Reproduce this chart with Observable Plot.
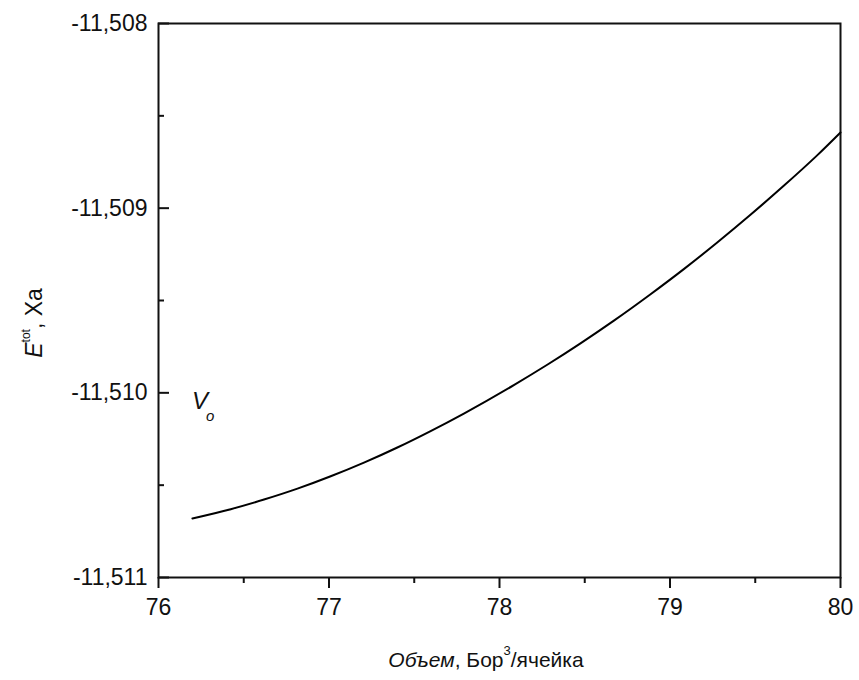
<!DOCTYPE html>
<html>
<head>
<meta charset="utf-8">
<script src="https://cdn.jsdelivr.net/npm/d3@7"></script>
<script src="https://cdn.jsdelivr.net/npm/@observablehq/plot@0.6"></script>
<style>
  body { margin: 0; background: #fff; }
  #chart svg { display: block; }
</style>
</head>
<body>
<div id="chart"></div>
<script>
// Total energy per cell vs. cell volume
const volume = [76.199, 76.424, 76.619, 76.815, 77.010, 77.205, 77.401, 77.596, 77.791,
                78.084, 78.280, 78.475, 78.671, 78.886, 79.081, 79.277, 79.472, 79.667, 79.863, 80.0];
const energy = [-11.510680, -11.510630, -11.510578, -11.510519, -11.510452, -11.510378, -11.510296,
                -11.510207, -11.510112, -11.509958, -11.509848, -11.509732, -11.509609, -11.509466,
                -11.509330, -11.509186, -11.509036, -11.508879, -11.508714, -11.508590];

const xTicks = [76, 77, 78, 79, 80];
const xMinorTicks = [76.5, 77.5, 78.5, 79.5];
const yTicks = [-11.511, -11.510, -11.509, -11.508];
const yMinorTicks = [-11.5105, -11.5095, -11.5085];

// Equilibrium volume marker (V with subscript o)
const markerX = 76.2;
const markerY = -11.51009;

const curve = volume.map((v, i) => ({volume: v, energy: energy[i]}));

const commaFmt = (f) => (d) => d3.format(f)(d).replace(".", ",").replace("−", "-");
const font = "'Liberation Sans', Arial, sans-serif";

const chart = Plot.plot({
  width: 859,
  height: 680,
  marginLeft: 158,
  marginRight: 19,
  marginTop: 23,
  marginBottom: 103,
  style: {fontFamily: font, background: "#fff", color: "#111"},
  x: {domain: [76, 80]},
  y: {domain: [-11.511, -11.508]},
  marks: [
    // x ticks point outward, y ticks point into the frame
    Plot.axisX(xTicks, {tickSize: 11, tickPadding: 10, fontSize: 23, tickFormat: (d) => String(d), strokeWidth: 2, label: null}),
    Plot.axisX(xMinorTicks, {tickSize: 6, text: null, strokeWidth: 2, label: null}),
    Plot.axisY(yTicks, {tickSize: 11, dx: 11, text: null, strokeWidth: 2, label: null}),
    Plot.axisY(yMinorTicks, {tickSize: 6, dx: 6, text: null, strokeWidth: 2, label: null}),
    Plot.axisY(yTicks, {tickSize: 0, tickPadding: 11, fontSize: 23, tickFormat: commaFmt(".3f"), label: null}),
    Plot.frame({stroke: "#111", strokeWidth: 2}),
    Plot.line(curve, {x: "volume", y: "energy", stroke: "#000", strokeWidth: 2, curve: "monotone-x"})
  ]
});

const svg = d3.select(chart);
const sx = chart.scale("x"), sy = chart.scale("y");

// V₀ annotation placed through the plot's scales
const vt = svg.append("text")
  .attr("x", sx.apply(markerX)).attr("y", sy.apply(markerY))
  .attr("text-anchor", "start")
  .attr("font-family", font).attr("font-size", 24).attr("font-style", "italic").attr("fill", "#111");
vt.append("tspan").text("V");
vt.append("tspan").attr("font-size", 15).attr("dx", -2).attr("dy", 12).text("o");

// Axis titles with italic parts and superscripts
const xt = svg.append("text")
  .attr("x", 486).attr("y", 667)
  .attr("text-anchor", "middle")
  .attr("font-family", font).attr("font-size", 21).attr("fill", "#111");
xt.append("tspan").attr("font-style", "italic").text("Объем");
xt.append("tspan").text(", Бор");
xt.append("tspan").attr("font-size", 13).attr("dy", -12).text("3");
xt.append("tspan").attr("dy", 12).text("/ячейка");

const yt = svg.append("text")
  .attr("transform", "translate(42,323) rotate(-90)")
  .attr("text-anchor", "middle")
  .attr("font-family", font).attr("font-size", 23).attr("fill", "#111");
yt.append("tspan").attr("font-style", "italic").text("E");
yt.append("tspan").attr("font-size", 12).attr("dy", -12).text("tot");
yt.append("tspan").attr("dy", 12).text(", Ха");

document.getElementById("chart").append(chart);
</script>
</body>
</html>
